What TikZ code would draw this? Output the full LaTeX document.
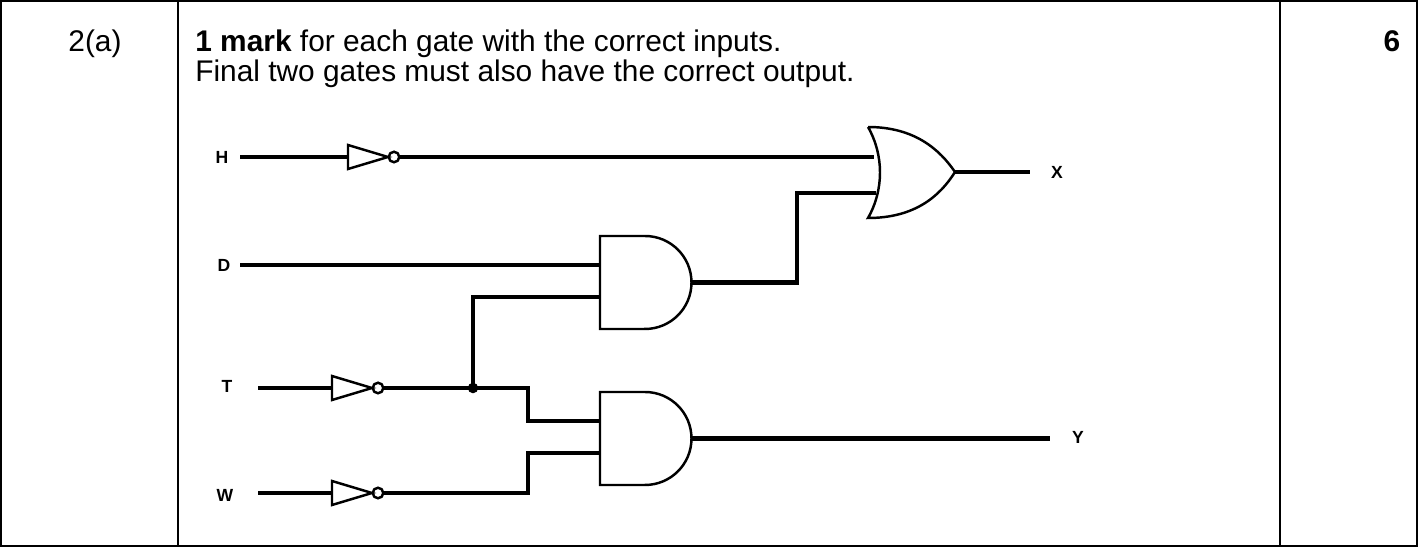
\documentclass[tikz,border=0pt]{standalone}
\usepackage{fontspec}
\setmainfont{Liberation Sans}
\tikzset{
  wire/.style={line width=2.3pt},
  gate/.style={line width=1.4pt},
  pin/.style={font=\fontsize{10}{10}\selectfont\bfseries, inner sep=0pt},
  txt/.style={font=\fontsize{17}{21}\selectfont, inner sep=0pt, anchor=base west}
}
\begin{document}
\begin{tikzpicture}[x=0.02cm,y=-0.02cm]
\useasboundingbox (0,0) rectangle (1418,547);
% table
\draw[line width=0.8pt] (1,1) rectangle (1417,546);
\draw[line width=0.8pt] (178,1) -- (178,546);
\draw[line width=0.8pt] (1280,1) -- (1280,546);
\node[txt,anchor=base] (part) at (95,52) {2(a)};
\node[txt] (line1) at (195,52) {\textbf{1 mark} for each gate with the correct inputs.};
\node[txt] (line2) at (195,82) {Final two gates must also have the correct output.};
\node[txt,anchor=base] (marks) at (1392,52) {\textbf{6}};

% inputs and outputs
\node[pin] (H) at (222,157) {H};
\node[pin] (D) at (224,265) {D};
\node[pin] (T) at (227,386) {T};
\node[pin] (W) at (225,495) {W};
\node[pin] (X) at (1057,172) {X};
\node[pin] (Y) at (1078,437) {Y};

% NOT gates
\foreach \g/\x/\y in {nh/348/157,nt/332/388,nw/332/493} {
  \draw[gate] (\x,\y-12) -- (\x+40,\y) -- (\x,\y+12) -- cycle;
  \draw[gate] (\x+46,\y) circle (3pt);
  \coordinate (\g-in) at (\x,\y);
  \coordinate (\g-out) at (\x+52,\y);
}

% AND gates
\foreach \g/\y in {aa/236,ab/392} {
  \draw[gate] (600,\y) -- (645,\y) arc[start angle=90,end angle=-90,radius=0.93cm]
    -- (600,\y+93) -- cycle;
  \coordinate (\g-a) at (600,\y+29);
  \coordinate (\g-b) at (600,\y+61);
  \coordinate (\g-out) at (692,\y+46.5);
}

% OR gate
\draw[gate] (868,127) .. controls (915,127) and (940,150) .. (955,172)
  .. controls (940,196) and (915,218) .. (868,218)
  .. controls (884,190) and (884,155) .. (868,127);
\coordinate (or-a) at (874,157);
\coordinate (or-b) at (876,193);
\coordinate (or-out) at (955,172);

% wires
\coordinate (tap) at (473,388);
\draw[wire] (240,157) -- (nh-in);
\draw[wire] (nh-out) -- (or-a);
\draw[wire] (240,265) -- (aa-a);
\draw[wire] (aa-out) -| (797,193) -- (or-b);
\draw[wire] (or-out) -- (1030,172);
\draw[wire] (258,388) -- (nt-in);
\draw[wire] (nt-out) -- (528,388) |- (ab-a);
\draw[wire] (tap) |- (aa-b);
\fill (tap) circle (3pt);
\draw[wire] (258,493) -- (nw-in);
\draw[wire] (nw-out) -- (528,493) |- (ab-b);
\draw[wire] (ab-out) -- (ab-out -| 1050,0);
\end{tikzpicture}
\end{document}
